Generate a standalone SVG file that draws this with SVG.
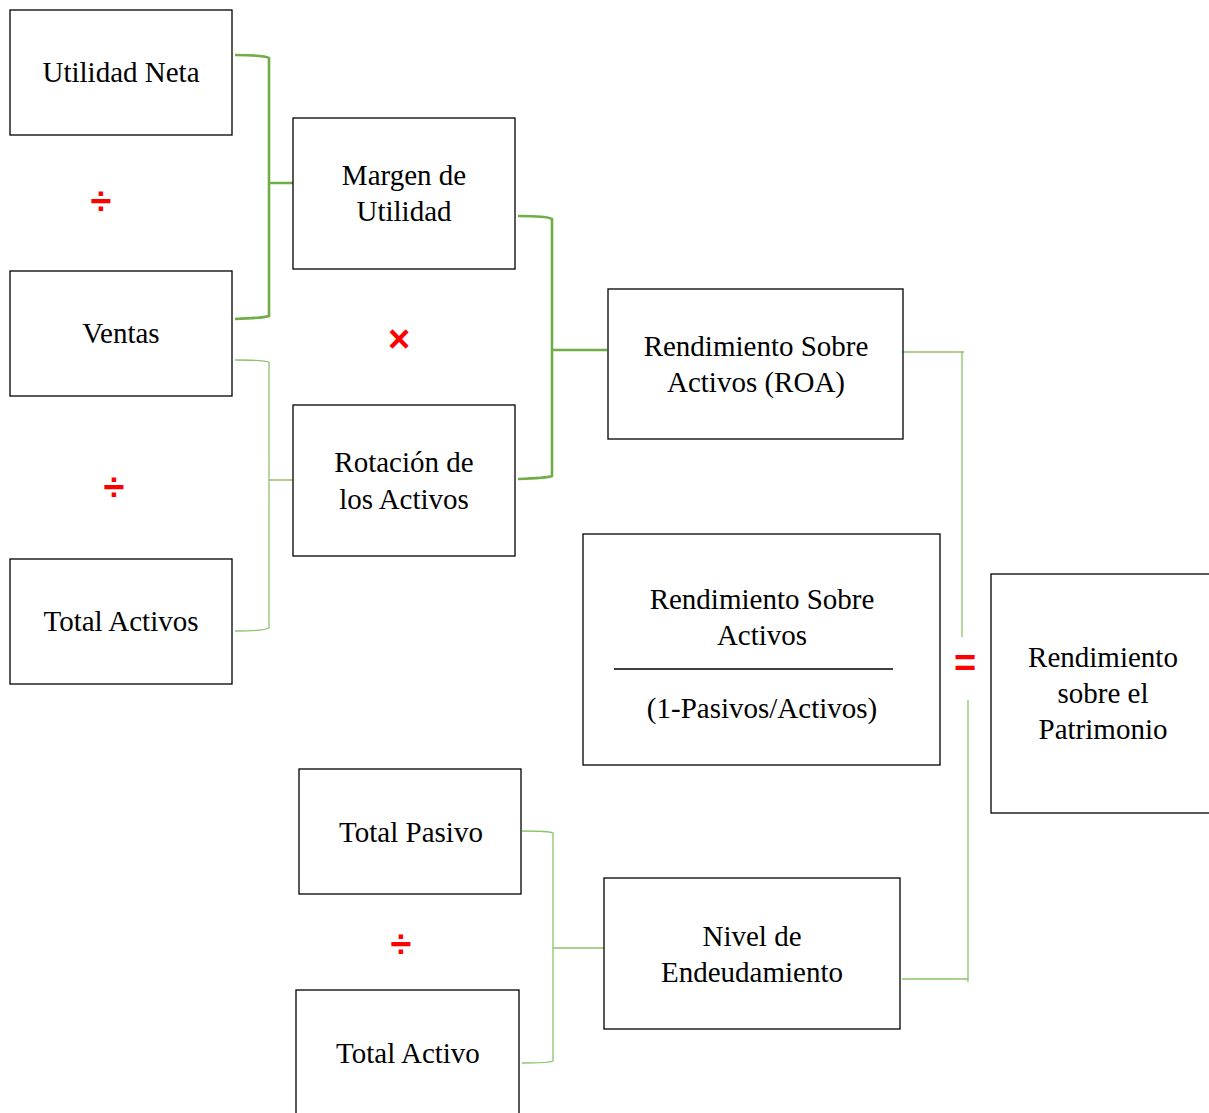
<svg xmlns="http://www.w3.org/2000/svg" width="1209" height="1113" viewBox="0 0 1209 1113">
<style>
.box{fill:#fff;stroke:#000;stroke-width:1.3}
.t{font-family:"Liberation Serif","Times New Roman",serif;font-size:29px;fill:#000;text-anchor:middle}
.thick{fill:none;stroke:#70AD47;stroke-width:2.6}
.thin{fill:none;stroke:#8CC36A;stroke-width:1.3}
.op{font-family:"Liberation Sans",Arial,sans-serif;font-weight:bold;fill:#FF0000;text-anchor:middle}
</style>
<rect width="1209" height="1113" fill="#fff"/>
<g id="connectors">
<path class="thick" d="M235,55 Q264,55 269,58 V316 Q264,318 235,319 M269,183 H297"/>
<path class="thin" d="M235,360 Q264,360 269,362 V628 Q264,631 235,631 M269,480 H293"/>
<path class="thick" d="M518,216 Q547,216 552,219 V476 Q547,478 518,479 M552,350 H607"/>
<path class="thin" d="M899,352 H964 M962,352 V637"/>
<path class="thin" d="M968,700 V982 M902,979 H968"/>
<path class="thin" d="M522,831 Q549,831 553,833 V1061 Q549,1063 522,1063 M553,948 H609"/>
</g>
<g id="utilidad-neta"><rect class="box" x="10" y="10" width="222" height="125"/><text class="t" x="121" y="82">Utilidad Neta</text></g>
<g id="ventas"><rect class="box" x="10" y="271" width="222" height="125"/><text class="t" x="121" y="343">Ventas</text></g>
<g id="total-activos"><rect class="box" x="10" y="559" width="222" height="125"/><text class="t" x="121" y="631">Total Activos</text></g>
<g id="margen-utilidad"><rect class="box" x="293" y="118" width="222" height="151"/><text class="t" x="404" y="185">Margen de</text><text class="t" x="404" y="221">Utilidad</text></g>
<g id="rotacion-activos"><rect class="box" x="293" y="405" width="222" height="151"/><text class="t" x="404" y="472">Rotación de</text><text class="t" x="404" y="509">los Activos</text></g>
<g id="roa"><rect class="box" x="608" y="289" width="295" height="150"/><text class="t" x="756" y="356">Rendimiento Sobre</text><text class="t" x="756" y="392">Activos (ROA)</text></g>
<g id="formula"><rect class="box" x="583" y="534" width="357" height="231"/><text class="t" x="762" y="609">Rendimiento Sobre</text><text class="t" x="762" y="645">Activos</text><line x1="614" y1="669" x2="893" y2="669" stroke="#000" stroke-width="1.3"/><text class="t" x="762" y="718">(1-Pasivos/Activos)</text></g>
<g id="roe"><rect class="box" x="991" y="574" width="230" height="239"/><text class="t" x="1103" y="667">Rendimiento</text><text class="t" x="1103" y="703">sobre el</text><text class="t" x="1103" y="739">Patrimonio</text></g>
<g id="total-pasivo"><rect class="box" x="299" y="769" width="222" height="125"/><text class="t" x="411" y="842">Total Pasivo</text></g>
<g id="total-activo"><rect class="box" x="296" y="990" width="223" height="140"/><text class="t" x="408" y="1063">Total Activo</text></g>
<g id="nivel-endeudamiento"><rect class="box" x="604" y="878" width="296" height="151"/><text class="t" x="752" y="946">Nivel de</text><text class="t" x="752" y="982">Endeudamiento</text></g>
<g id="operators">
<text class="op" x="101" y="214" font-size="38">÷</text>
<text class="op" x="114" y="500" font-size="38">÷</text>
<text class="op" x="399" y="352" font-size="38">×</text>
<text class="op" x="401" y="957" font-size="38">÷</text>
<text class="op" x="965" y="676" font-size="38">=</text>
</g>
</svg>
